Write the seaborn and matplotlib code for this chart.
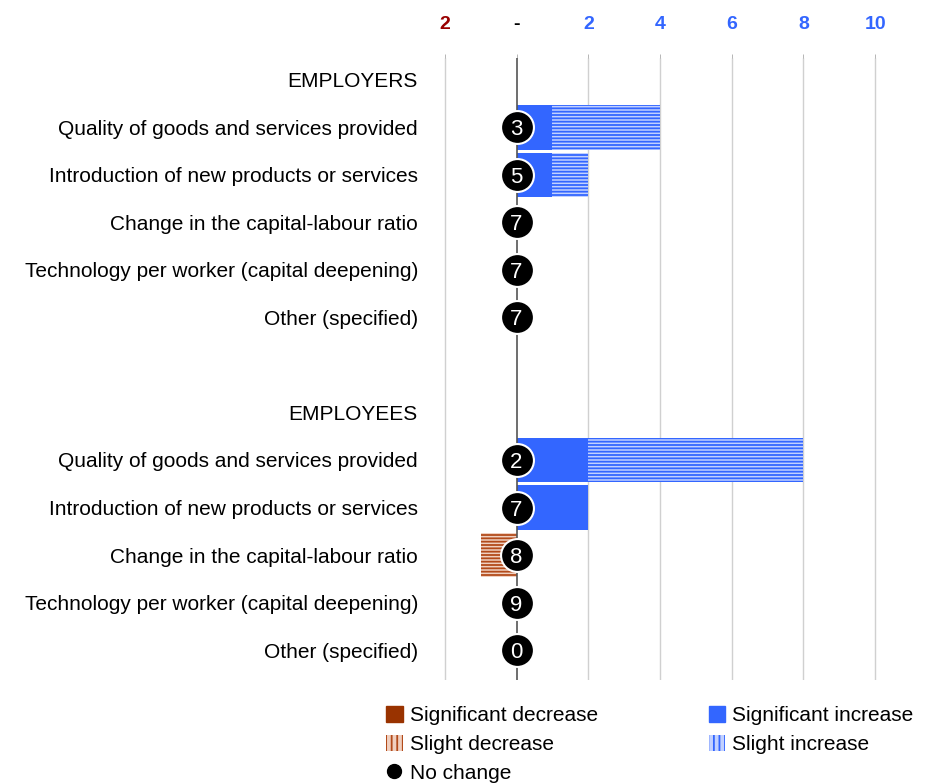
import matplotlib
matplotlib.use("Agg")
import matplotlib.pyplot as plt
from matplotlib.patches import Patch
from matplotlib.lines import Line2D
import numpy as np
import pandas as pd
import seaborn as sns

# Row labels (group headers included, blank spacer between groups)
row_labels = [
    "EMPLOYERS",
    "Quality of goods and services provided",
    "Introduction of new products or services",
    "Change in the capital-labour ratio",
    "Technology per worker (capital deepening)",
    "Other (specified)",
    "",
    "EMPLOYEES",
    "Quality of goods and services provided",
    "Introduction of new products or services",
    "Change in the capital-labour ratio",
    "Technology per worker (capital deepening)",
    "Other (specified)",
]
significant_increase = [0, 1, 1, 0, 0, 0, 0, 0, 2, 2, 0, 0, 0]
slight_increase      = [0, 3, 1, 0, 0, 0, 0, 0, 6, 0, 0, 0, 0]
significant_decrease = [0, 0, 0, 0, 0, 0, 0, 0, 0, 0, 0, 0, 0]
slight_decrease      = [0, 0, 0, 0, 0, 0, 0, 0, 0, 0, 1, 0, 0]
no_change            = [None, 3, 5, 7, 7, 7, None, None, 2, 7, 8, 9, 0]

tick_values = [-2, 0, 2, 4, 6, 8, 10]
tick_labels = ["2", "-", "2", "4", "6", "8", "10"]
tick_colors = ["#990000", "#000000", "#3366ff", "#3366ff", "#3366ff", "#3366ff", "#3366ff"]

BLUE = "#3366ff"
BLUE_LIGHT = "#c2d1ff"
BROWN = "#993300"
BROWN_LIGHT = "#f0d0c0"

sns.set_theme(style="white")
plt.rcParams["font.family"] = ["Liberation Sans", "DejaVu Sans"]
plt.rcParams["hatch.linewidth"] = 1.3

keys = [f"r{i}" for i in range(len(row_labels))]
df = pd.DataFrame({
    "key": keys,
    "inc_total": np.array(significant_increase) + np.array(slight_increase),
    "inc_sig": significant_increase,
    "dec_total": -(np.array(significant_decrease) + np.array(slight_decrease)),
    "dec_sig": [-v for v in significant_decrease],
})

fig = plt.figure(figsize=(9.33, 7.84), dpi=100)
ax = fig.add_axes([443 / 933, 1 - 680 / 784, 434 / 933, (680 - 58) / 784])

common = dict(data=df, y="key", order=keys, orient="h", errorbar=None,
              saturation=1, width=0.94, ax=ax, zorder=2)

# slight changes (striped), then significant changes drawn over them
sns.barplot(x="inc_total", color=BLUE_LIGHT, hatch="-----", edgecolor=BLUE,
            linewidth=0, **common)
sns.barplot(x="dec_total", color=BROWN_LIGHT, hatch="-----", edgecolor="#b24a1a",
            linewidth=0, **common)
sns.barplot(x="inc_sig", color=BLUE, linewidth=0, **common)
sns.barplot(x="dec_sig", color=BROWN, linewidth=0, **common)

# "No change" counts as circles on the zero line
nc = pd.DataFrame({"key": [k for k, v in zip(keys, no_change) if v is not None],
                   "x": 0.0,
                   "n": [v for v in no_change if v is not None]})
ax.axvline(0, color="#555555", lw=1.2, zorder=3)
sns.scatterplot(data=nc, x="x", y="key", s=560, color="black", edgecolor="white",
                linewidth=1.5, zorder=4, ax=ax, legend=False)
for k, n in zip(nc["key"], nc["n"]):
    ax.text(0, keys.index(k), str(n), color="white", fontsize=16,
            ha="center", va="center_baseline", zorder=5)

# axes styling
ax.set_xlim(-2.05, 10.05)
ax.set_ylim(len(keys) - 0.37, -0.46)
ax.xaxis.tick_top()
ax.set_xticks(tick_values)
ax.set_xticklabels(tick_labels, fontsize=14, fontweight="bold")
for lab, c in zip(ax.get_xticklabels(), tick_colors):
    lab.set_color(c)
ax.tick_params(axis="x", length=3, width=0.6, color="#aaaaaa", pad=15)
ax.set_yticks(range(len(keys)))
ax.set_yticklabels(row_labels, fontsize=15, color="black")
ax.tick_params(axis="y", length=0, pad=18)
for v in tick_values:
    if v != 0:
        ax.axvline(v, color="#d0d0d0", lw=1, zorder=0)
for s in ax.spines.values():
    s.set_visible(False)
ax.set_xlabel("")
ax.set_ylabel("")

handles = [
    Patch(facecolor=BROWN, edgecolor=BROWN, label="Significant decrease"),
    Patch(facecolor=BROWN_LIGHT, edgecolor="#b24a1a", hatch="|||", lw=0, label="Slight decrease"),
    Line2D([], [], marker="o", color="black", lw=0, markersize=10, label="No change"),
    Patch(facecolor=BLUE, edgecolor=BLUE, label="Significant increase"),
    Patch(facecolor=BLUE_LIGHT, edgecolor=BLUE, hatch="|||", lw=0, label="Slight increase"),
]
leg = fig.legend(handles=handles, ncol=2, loc="upper left",
                 bbox_to_anchor=(386 / 933, 1 - 706 / 784), frameon=False,
                 fontsize=15, handlelength=0.8, handleheight=0.8, handletextpad=0.35,
                 labelspacing=0.46, columnspacing=5.3, borderpad=0, borderaxespad=0)
for t in leg.get_texts():
    t.set_color("black")

fig.savefig("out.png", dpi=100)
